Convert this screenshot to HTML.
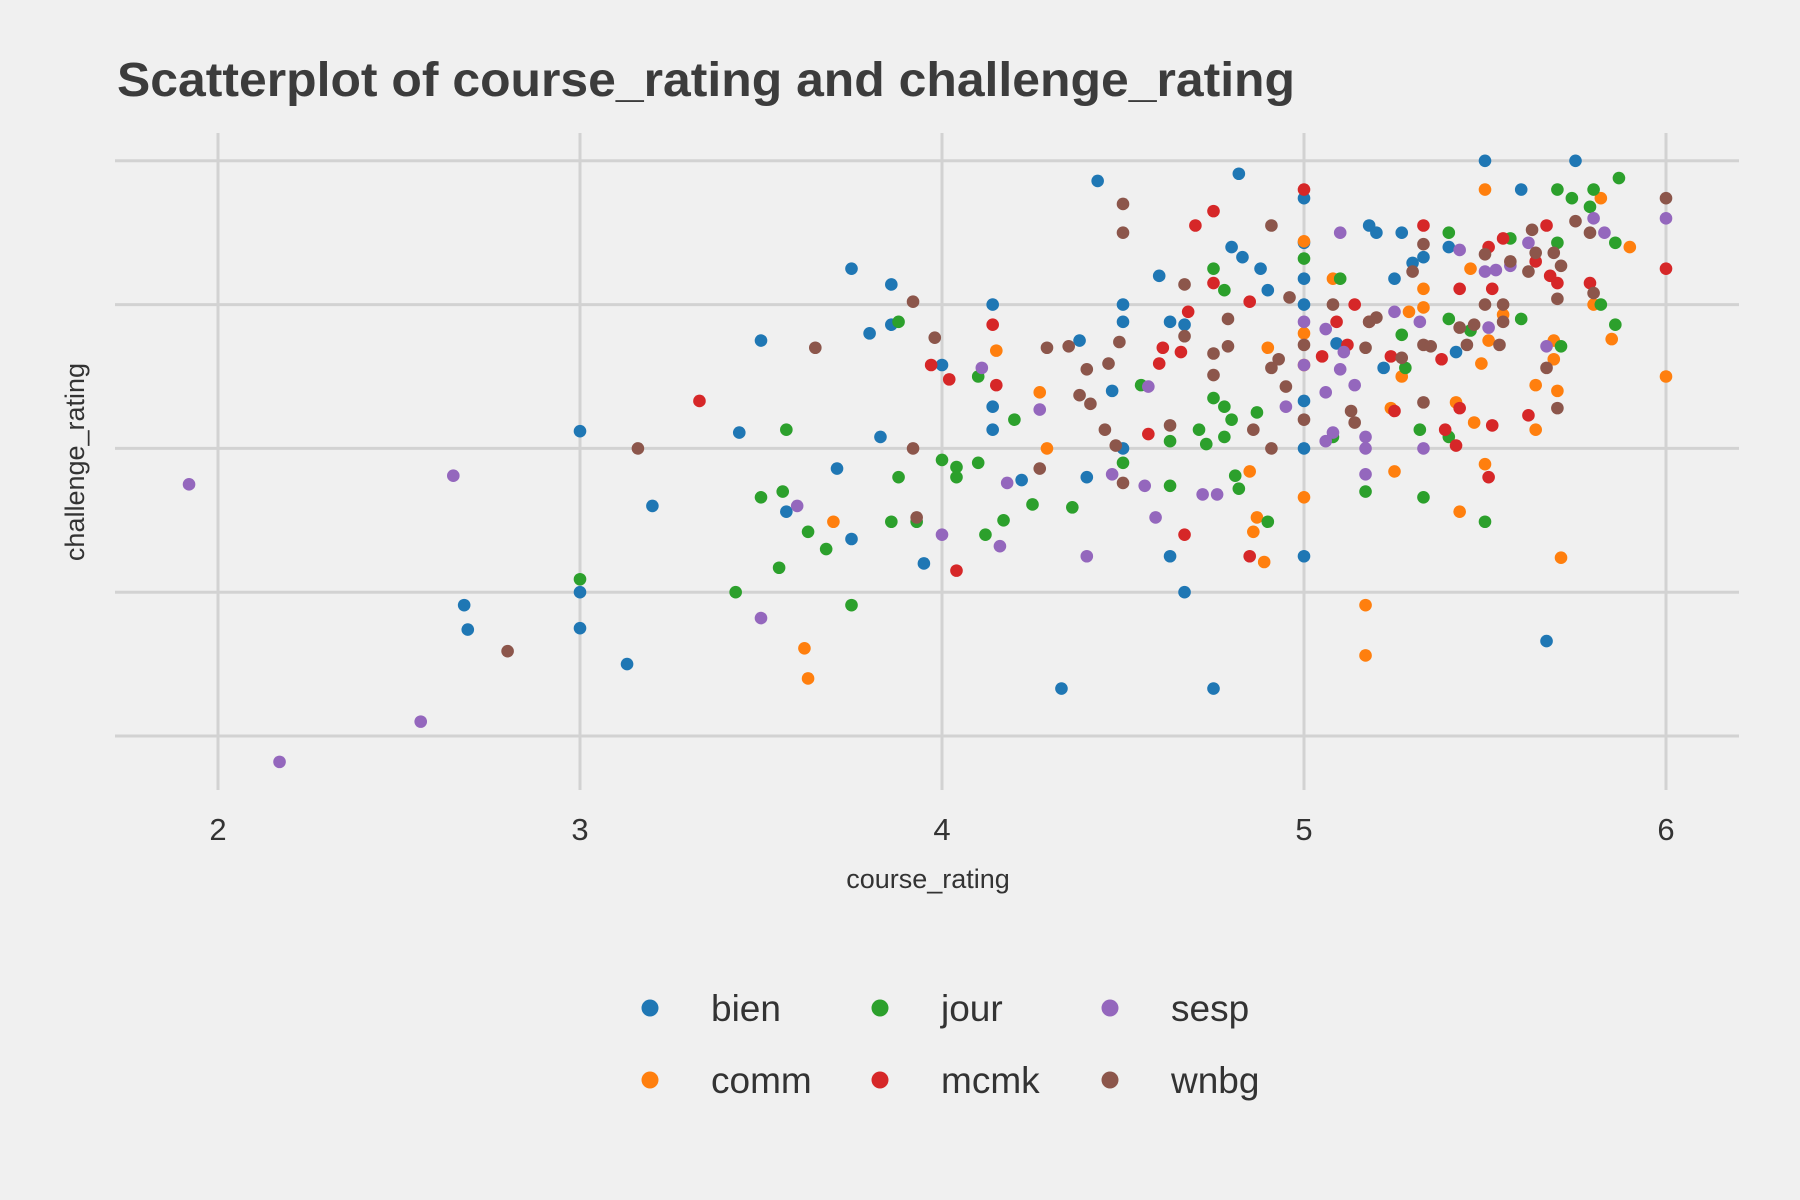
<!DOCTYPE html>
<html><head><meta charset="utf-8"><style>
html,body{margin:0;padding:0;background:#f0f0f0;}
svg{display:block;font-family:"Liberation Sans",sans-serif;}
</style></head><body>
<svg id="chart" width="1800" height="1200" viewBox="0 0 1800 1200" xmlns="http://www.w3.org/2000/svg">
<rect width="1800" height="1200" fill="#f0f0f0"/>
<text x="117" y="96" font-size="48" font-weight="bold" fill="#3c3c3c" textLength="1178" lengthAdjust="spacingAndGlyphs">Scatterplot of course_rating and challenge_rating</text>
<g id="grid"></g>
<g id="xticks"></g>
<text x="928" y="888" font-size="27" fill="#333" text-anchor="middle">course_rating</text>
<text transform="translate(84,462) rotate(-90)" font-size="27" fill="#333" text-anchor="middle">challenge_rating</text>
<g id="points"></g>
<g id="legend"></g>
</svg>
<script>
const xTicks = [2, 3, 4, 5, 6];
const yTicks = [1, 2, 3, 4, 5];
const seriesNames = ["bien", "comm", "jour", "mcmk", "sesp", "wnbg"];
const seriesColors = ["#1f77b4", "#ff7f0e", "#2ca02c", "#d62728", "#9467bd", "#8c564b"];
const bienX = [5.50,5.75,4.82,4.43,5.00,5.60,5.18,5.20,5.27,4.80,4.83,4.88,4.60,5.00,5.00,5.33,5.30,5.40,5.25,3.75,3.86,4.90,4.14,4.50,5.00,4.63,4.67,4.50,4.38,3.50,3.80,3.86,5.09,5.42,4.00,5.22,4.14,4.47,5.00,4.14,3.00,3.44,3.83,5.00,4.50,3.71,4.40,4.22,3.20,3.57,3.75,3.95,4.63,5.00,4.67,3.00,2.68,3.00,2.69,3.13,5.67,4.33,4.75];
const bienY = [5.00,5.00,4.91,4.86,4.74,4.80,4.55,4.50,4.50,4.40,4.33,4.25,4.20,4.43,4.18,4.33,4.29,4.40,4.18,4.25,4.14,4.10,4.00,4.00,4.00,3.88,3.86,3.88,3.75,3.75,3.80,3.86,3.73,3.67,3.58,3.56,3.29,3.40,3.33,3.13,3.12,3.11,3.08,3.00,3.00,2.86,2.80,2.78,2.60,2.56,2.37,2.20,2.25,2.25,2.00,2.00,1.91,1.75,1.74,1.50,1.66,1.33,1.33];
const commX = [5.50,5.82,5.00,5.90,5.08,5.33,5.46,5.80,5.29,5.51,5.69,5.85,5.49,5.69,5.00,4.90,5.00,4.15,6.00,5.64,4.27,5.24,5.42,5.47,5.64,5.70,4.29,4.85,5.25,5.50,5.00,5.43,4.87,4.86,4.89,5.71,3.70,5.17,3.62,3.63,5.17,5.33,5.27,5.55];
const commY = [4.80,4.74,4.44,4.40,4.18,4.11,4.25,4.00,3.95,3.75,3.75,3.76,3.59,3.62,3.58,3.70,3.80,3.68,3.50,3.44,3.39,3.28,3.32,3.18,3.13,3.40,3.00,2.84,2.84,2.89,2.66,2.56,2.52,2.42,2.21,2.24,2.49,1.91,1.61,1.40,1.56,3.98,3.50,3.93];
const jourX = [5.70,5.80,5.87,5.74,5.40,5.57,5.70,5.86,5.00,4.75,4.78,5.10,5.79,5.82,5.86,5.71,5.60,5.40,5.27,5.28,3.88,4.10,4.55,4.75,4.78,4.87,4.80,4.20,4.71,4.78,4.73,4.63,4.50,5.08,5.32,5.40,3.57,4.00,4.04,4.10,3.88,4.04,4.81,4.82,4.63,5.17,5.33,3.50,3.56,4.25,4.36,3.86,3.93,4.90,4.12,4.17,3.63,3.68,3.55,5.50,3.00,3.43,3.75,5.46];
const jourY = [4.80,4.80,4.88,4.74,4.50,4.46,4.43,4.43,4.32,4.25,4.10,4.18,4.68,4.00,3.86,3.71,3.90,3.90,3.79,3.56,3.88,3.50,3.44,3.35,3.29,3.25,3.20,3.20,3.13,3.08,3.03,3.05,2.90,3.08,3.13,3.08,3.13,2.92,2.87,2.90,2.80,2.80,2.81,2.72,2.74,2.70,2.66,2.66,2.70,2.61,2.59,2.49,2.49,2.49,2.40,2.50,2.42,2.30,2.17,2.49,2.09,2.00,1.91,3.82];
const mcmkX = [5.00,4.75,4.70,5.33,5.55,5.67,5.51,6.00,5.70,5.79,5.52,5.43,4.75,5.14,4.68,5.09,4.61,4.66,4.60,4.85,5.05,5.12,3.97,4.02,4.14,4.15,3.33,5.38,5.25,5.43,5.62,5.52,5.39,5.42,4.57,4.67,4.04,4.85,5.51,5.64,5.68,5.18,5.24];
const mcmkY = [4.80,4.65,4.55,4.55,4.46,4.55,4.40,4.25,4.15,4.15,4.11,4.11,4.15,4.00,3.95,3.88,3.70,3.67,3.59,4.02,3.64,3.72,3.58,3.48,3.86,3.44,3.33,3.62,3.26,3.28,3.23,3.16,3.13,3.02,3.10,2.40,2.15,2.25,2.80,4.30,4.20,3.88,3.64];
const sespX = [6.00,5.80,5.83,5.10,5.43,5.50,5.57,5.25,5.32,5.06,5.11,5.51,5.67,5.00,5.00,5.10,5.14,5.06,4.95,4.11,4.57,4.27,5.08,5.06,5.17,5.17,5.33,5.17,4.47,4.56,4.59,4.72,4.76,3.60,4.00,4.16,4.40,4.18,3.50,2.65,1.92,2.56,2.17,5.62,5.53];
const sespY = [4.60,4.60,4.50,4.50,4.38,4.23,4.27,3.95,3.88,3.83,3.67,3.84,3.71,3.88,3.58,3.55,3.44,3.39,3.29,3.56,3.43,3.27,3.11,3.05,3.08,3.00,3.00,2.82,2.82,2.74,2.52,2.68,2.68,2.60,2.40,2.32,2.25,2.76,1.82,2.81,2.75,1.10,0.82,4.43,4.24];
const wnbgX = [6.00,4.50,4.50,4.91,5.75,5.79,5.63,5.33,5.50,5.57,5.64,5.69,5.71,5.62,5.30,5.70,5.80,4.67,4.96,5.08,5.55,5.50,5.20,5.18,5.55,5.47,5.43,5.33,5.54,5.45,5.00,5.17,5.27,4.79,4.67,4.79,4.49,4.46,4.40,4.35,4.29,3.98,3.92,3.65,4.93,4.91,4.95,4.75,4.75,5.00,5.13,5.14,5.33,4.86,4.38,4.41,4.63,4.45,4.48,4.50,4.27,4.91,3.92,3.93,3.16,2.80,5.67,5.70,5.35];
const wnbgY = [4.74,4.70,4.50,4.55,4.58,4.50,4.52,4.42,4.35,4.30,4.36,4.36,4.27,4.23,4.23,4.04,4.08,4.14,4.05,4.00,4.00,4.00,3.91,3.88,3.88,3.86,3.84,3.72,3.72,3.72,3.72,3.70,3.63,3.71,3.78,3.90,3.74,3.59,3.55,3.71,3.70,3.77,4.02,3.70,3.62,3.56,3.43,3.66,3.51,3.20,3.26,3.18,3.32,3.13,3.37,3.31,3.16,3.13,3.02,2.76,2.86,3.00,3.00,2.52,3.00,1.59,3.56,3.28,3.71];

const seriesX = [bienX, commX, jourX, mcmkX, sespX, wnbgX];
const seriesY = [bienY, commY, jourY, mcmkY, sespY, wnbgY];

const NS = "http://www.w3.org/2000/svg";
const xScale = v => 218 + (v - 2) * 362;
const yScale = v => 736 - (v - 1) * 143.8;
function mk(tag, attrs, parent) {
  const e = document.createElementNS(NS, tag);
  for (const k in attrs) e.setAttribute(k, attrs[k]);
  parent.appendChild(e);
  return e;
}
const grid = document.getElementById("grid");
yTicks.forEach(t => {
  const l = mk("line", {x1: 115, x2: 1739, y1: yScale(t), y2: yScale(t), stroke: "#d2d2d2", "stroke-width": 3}, grid);
  
  
});
const xt = document.getElementById("xticks");
xTicks.forEach(t => {
  const l = mk("line", {x1: xScale(t), x2: xScale(t), y1: 133, y2: 790, stroke: "#d2d2d2", "stroke-width": 3}, grid);
  
  
  const tx = mk("text", {x: xScale(t), y: 840, "font-size": 31, fill: "#333", "text-anchor": "middle"}, xt);
  tx.textContent = t;
  
  
});
const pts = document.getElementById("points");
seriesX.forEach((xs, s) => {
  xs.forEach((xv, i) => {
    const c = mk("circle", {cx: xScale(xv), cy: yScale(seriesY[s][i]), r: 6.3, fill: seriesColors[s]}, pts);
    
    
  });
});
const lg = document.getElementById("legend");
const lgX = [650, 880, 1110];
const lgY = [1008, 1080];
seriesNames.forEach((n, i) => {
  const col = Math.floor(i / 2), row = i % 2;
  const c = mk("circle", {cx: lgX[col], cy: lgY[row], r: 8.5, fill: seriesColors[i]}, lg);
  
  
  const t = mk("text", {x: lgX[col] + 61, y: lgY[row] + 13, "font-size": 37, fill: "#333"}, lg);
  t.textContent = n;
  
  
});
</script>
</body></html>
